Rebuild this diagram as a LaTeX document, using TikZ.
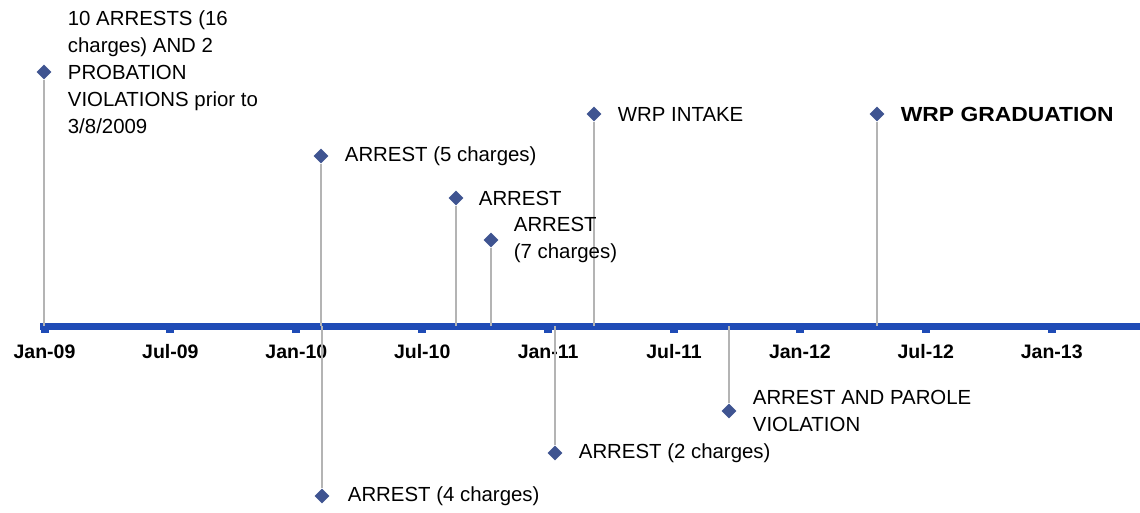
\documentclass[tikz,border=0pt]{standalone}
\usepackage{fontspec}
\setmainfont{Liberation Sans}
\usepackage{xcolor}
\usepackage{tikz}
\usetikzlibrary{positioning, shapes.geometric}

\definecolor{axisblue}{RGB}{31,75,182}
\definecolor{markblue}{RGB}{63,84,145}
\definecolor{stemgray}{RGB}{180,180,180}

\begin{document}
\begin{tikzpicture}[
    x=1pt, y=-1pt,
    evmark/.style={diamond, fill=markblue, inner sep=0pt, minimum size=15pt},
    evtext/.style={anchor=west, align=left, inner sep=0pt,
                   font=\fontsize{20.4}{27}\selectfont},
    stem/.style={draw=stemgray, line width=2.6pt},
    ticklbl/.style={font=\fontsize{19.5}{22}\selectfont\bfseries, inner sep=0pt},
]
\useasboundingbox (0,0) rectangle (1140,512);

% time axis
\coordinate (axl) at (40,326);
\coordinate (axr) at (1140,326);
\draw[axisblue, line width=7pt] (axl) -- (axr);

\foreach \lbl [count=\i from 0] in {Jan-09,Jul-09,Jan-10,Jul-10,Jan-11,Jul-11,Jan-12,Jul-12,Jan-13} {
    \pgfmathsetmacro{\tx}{44.5+125.9*\i}
    \fill[axisblue] (\tx-4,326) rectangle (\tx+4,333);
    \node[ticklbl] (t\i) at (\tx,352) {\lbl};
}

% points on the axis
\coordinate (b1) at (44,326);
\coordinate (b2) at (321,326);
\coordinate (b3) at (456,326);
\coordinate (b4) at (491,326);
\coordinate (b5) at (594,326);
\coordinate (b6) at (877,326);
\coordinate (b7) at (322,326);
\coordinate (b8) at (555,326);
\coordinate (b9) at (729,326);

% markers
\node[evmark] (m1) at (44,72) {};
\node[evmark] (m2) at (321,156) {};
\node[evmark] (m3) at (456,198) {};
\node[evmark] (m4) at (491,240) {};
\node[evmark] (m5) at (594,114) {};
\node[evmark] (m6) at (877,114) {};
\node[evmark] (m7) at (322,496) {};
\node[evmark] (m8) at (555,453) {};
\node[evmark] (m9) at (729,411) {};

% stems
\foreach \i in {1,...,9}
    \draw[stem] (m\i) -- (b\i);

% event labels
\node[evtext, right=16pt of m1] (e1) {10 ARRESTS (16\\charges) AND 2\\PROBATION\\VIOLATIONS prior to\\3/8/2009};
\node[evtext, right=16pt of m2] (e2) {ARREST (5 charges)};
\node[evtext, right=15pt of m3] (e3) {ARREST};
\node[evtext, right=15pt of m4] (e4) {ARREST\\(7 charges)};
\node[evtext, right=16pt of m5] (e5) {WRP INTAKE};
\node[evtext, right=16pt of m6] (e6) {\scalebox{1.12}[1]{\bfseries WRP GRADUATION}};
\node[evtext, right=18pt of m7] (e7) {ARREST (4 charges)};
\node[evtext, right=16pt of m8] (e8) {ARREST (2 charges)};
\node[evtext, right=16pt of m9] (e9) {ARREST AND PAROLE\\VIOLATION};

\end{tikzpicture}
\end{document}
